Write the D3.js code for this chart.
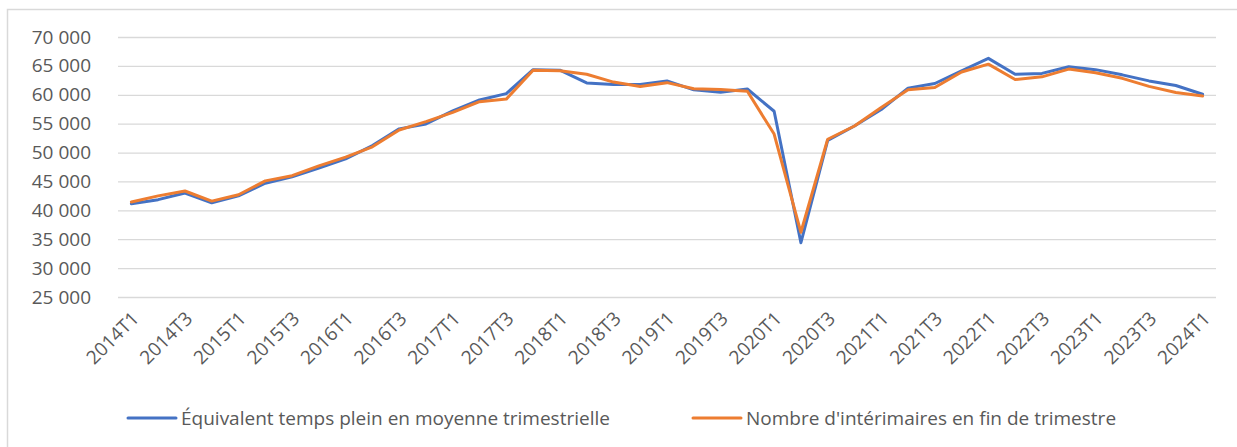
<!DOCTYPE html>
<html>
<head>
<meta charset="utf-8">
<script src="https://cdn.jsdelivr.net/npm/d3@7"></script>
<style>
  body { margin: 0; background: #fff; }
  svg { display: block; font-family: "Open Sans", sans-serif; }
</style>
</head>
<body>
<div id="chart"></div>
<script>
// trimestres 2014T1 -> 2024T1
var quarters = [
  "2014T1","2014T2","2014T3","2014T4","2015T1","2015T2","2015T3","2015T4",
  "2016T1","2016T2","2016T3","2016T4","2017T1","2017T2","2017T3","2017T4",
  "2018T1","2018T2","2018T3","2018T4","2019T1","2019T2","2019T3","2019T4",
  "2020T1","2020T2","2020T3","2020T4","2021T1","2021T2","2021T3","2021T4",
  "2022T1","2022T2","2022T3","2022T4","2023T1","2023T2","2023T3","2023T4",
  "2024T1"
];
// Équivalent temps plein en moyenne trimestrielle
var etp = [
  41150, 41850, 43000, 41300, 42500, 44700, 45800, 47300,
  48900, 51200, 54100, 54950, 57200, 59100, 60200, 64350,
  64250, 62050, 61800, 61800, 62400, 60850, 60450, 61000,
  57150, 34400, 52100, 54600, 57450, 61150, 61950, 64150,
  66300, 63550, 63700, 64850, 64350, 63450, 62400, 61600,
  60100
];
// Nombre d'intérimaires en fin de trimestre
var interimaires = [
  41450, 42500, 43350, 41600, 42700, 45100, 46000, 47700,
  49200, 51000, 53900, 55350, 56950, 58800, 59250, 64250,
  64150, 63550, 62200, 61450, 62100, 61050, 60900, 60600,
  53200, 36200, 52300, 54600, 57800, 60850, 61250, 63950,
  65300, 62650, 63100, 64450, 63800, 62850, 61450, 60400,
  59800
];
var yTicks = [25000, 30000, 35000, 40000, 45000, 50000, 55000, 60000, 65000, 70000];
var seriesNames = ["Équivalent temps plein en moyenne trimestrielle", "Nombre d'intérimaires en fin de trimestre"];
var seriesColors = ["#4472C4", "#ED7D31"];

var width = 1237, height = 447;
var plotLeft = 118, plotRight = 1216, plotTop = 37, plotBottom = 297;
var textColor = "#595959", gridColor = "#D9D9D9";

var fr = d3.formatLocale({ decimal: ",", thousands: " ", grouping: [3], currency: ["", " €"] });
var fmt = fr.format(",d");

var svg = d3.select("#chart").append("svg")
  .attr("width", width).attr("height", height);

// cadre du graphique
svg.append("rect")
  .attr("x", 7.5).attr("y", 9.5)
  .attr("width", width).attr("height", height)
  .attr("fill", "none").attr("stroke", gridColor).attr("stroke-width", 1.5);

var x = d3.scaleBand().domain(quarters).range([plotLeft, plotRight]);
var y = d3.scaleLinear().domain([25000, 70000]).range([plotBottom, plotTop]);
var cx = function (d) { return x(d) + x.bandwidth() / 2; };

// grille + axe Y
var yAxis = svg.append("g")
  .attr("transform", "translate(" + plotLeft + ",0)")
  .call(d3.axisLeft(y).tickValues(yTicks).tickFormat(fmt).tickSize(-(plotRight - plotLeft)).tickPadding(27));
yAxis.select(".domain").remove();
yAxis.selectAll(".tick line").attr("stroke", gridColor).attr("stroke-width", 1.3);
yAxis.selectAll(".tick text")
  .attr("fill", textColor).attr("font-size", 19).attr("font-family", "Open Sans, sans-serif");

// axe X
var xAxis = svg.append("g")
  .attr("transform", "translate(0," + plotBottom + ")")
  .call(d3.axisBottom(x).tickValues(quarters.filter(function (d, i) { return i % 2 == 0; })).tickSize(0));
xAxis.select(".domain").remove();
xAxis.selectAll(".tick text")
  .attr("fill", textColor).attr("font-size", 19).attr("font-family", "Open Sans, sans-serif")
  .attr("text-anchor", "end")
  .attr("x", 0).attr("y", 0).attr("dy", "0.35em")
  .attr("transform", "translate(4,18) rotate(-45)");

// courbes
var line = d3.line()
  .x(function (d, i) { return cx(quarters[i]); })
  .y(function (d) { return y(d); });

[etp, interimaires].forEach(function (serie, k) {
  svg.append("path")
    .datum(serie)
    .attr("d", line)
    .attr("fill", "none")
    .attr("stroke", seriesColors[k])
    .attr("stroke-width", 3)
    .attr("stroke-linejoin", "round")
    .attr("stroke-linecap", "round");
});

// légende
var legendX = [128, 693];
var legend = svg.append("g");
seriesNames.forEach(function (name, k) {
  var g = legend.append("g").attr("transform", "translate(" + legendX[k] + ",418)");
  g.append("line").attr("x1", 0).attr("x2", 48).attr("y1", 0).attr("y2", 0)
    .attr("stroke", seriesColors[k]).attr("stroke-width", 3).attr("stroke-linecap", "round");
  g.append("text").attr("x", 53).attr("y", 0).attr("dy", "0.35em")
    .attr("fill", textColor).attr("font-size", 19)
    .text(name);
});
</script>
</body>
</html>
